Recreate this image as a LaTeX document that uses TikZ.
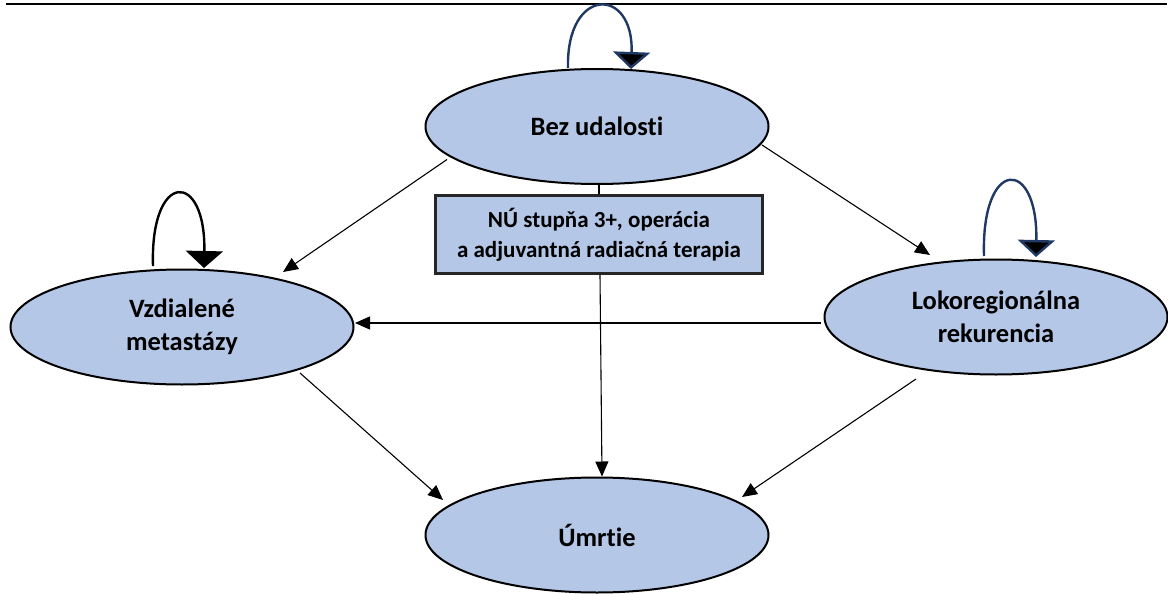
\documentclass[tikz,border=0pt]{standalone}
\usepackage{fontspec}
\setmainfont{Carlito}[Ligatures=NoCommon]
\usetikzlibrary{arrows.meta,shapes.geometric,calc}
\definecolor{fillblue}{HTML}{B4C7E7}
\definecolor{navy}{HTML}{1F3864}
\begin{document}
\begin{tikzpicture}[x=1pt,y=-1pt,
  state/.style={ellipse,draw=black,line width=2pt,fill=fillblue,minimum width=343pt,minimum height=115pt,inner sep=0pt,align=center,font=\fontsize{26.5}{33}\selectfont\bfseries},
  eventbox/.style={rectangle,draw=black!85,line width=2.5pt,fill=fillblue,minimum width=327pt,minimum height=78pt,inner sep=0pt,align=center,font=\fontsize{23}{30}\selectfont\bfseries},
  conn/.style={line width=1.1pt,-{Triangle[length=15pt,width=13pt]}},
  selfloop/.style={line width=2.4pt,-{Triangle[length=17pt,width=37pt,fill=black]}}
]
\useasboundingbox (0,0) rectangle (1168,594);
\draw[line width=2.5pt] (6,4) -- (1167,4);

\node[state] (top) at (597,126.5) {Bez udalosti};
\node[state] (left) at (182,327) {Vzdialené\\metastázy};
\node[state] (right) at (996,317) {Lokoregionálna\\rekurencia};
\node[state] (bot) at (597,535) {Úmrtie};
\node[eventbox] (box) at (599,234.5) {NÚ stupňa 3+, operácia\\a adjuvantná radiačná terapia};

% connectors
\draw[line width=1.1pt] (box.north) -- (box.north |- top.south);
\draw[conn] ($(top.center)+(-150,33)$) -- ($(left.center)+(101,-55)$);
\draw[conn] ($(top.center)+(165,18.5)$) -- ($(right.center)+(-66,-62)$);
\draw[conn] ($(right.center)+(-175,6)$) -- ($(left.center)+(173,-4)$);
\draw[conn] ($(left.center)+(118,46)$) -- ($(bot.center)+(-154,-35)$);
\draw[conn] ($(right.center)+(-80,62)$) -- ($(bot.center)+(145,-38)$);
\draw[conn] ($(box.south)+(1,0)$) -- ($(bot.north)+(5,0)$);

% self loops
\draw[selfloop,draw=navy] ($(top.center)+(-29,-58.5)$) .. controls +(-2,-82) and +(3,-83) .. ($(top.center)+(34,-57.5)$);
\draw[selfloop,draw=black] ($(left.center)+(-29,-61)$) .. controls +(-3,-96) and +(2,-98) .. ($(left.center)+(22,-59)$);
\draw[selfloop,draw=navy] ($(right.center)+(-12,-61)$) .. controls +(-3,-99) and +(2,-100) .. ($(right.center)+(40,-60)$);
\end{tikzpicture}
\end{document}
